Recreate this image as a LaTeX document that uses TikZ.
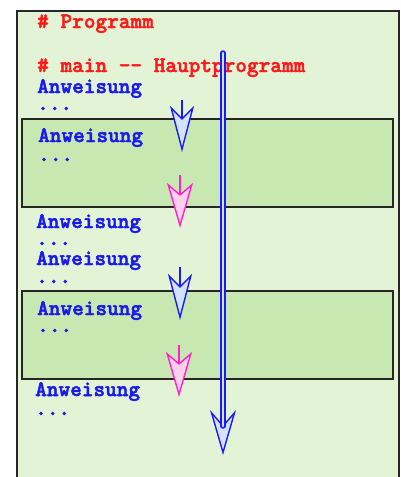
\documentclass[tikz,border=0pt]{standalone}
\usepackage{fontspec}
\newfontfamily\codefont{lmmonolt10-bold.otf}[AutoFakeBold=2.2]
\usetikzlibrary{arrows.meta,calc}
\definecolor{outerbg}{HTML}{E2F3D6}
\definecolor{innerbg}{HTML}{C7E8B1}
\definecolor{txtred}{HTML}{FF1A1A}
\definecolor{txtblue}{HTML}{1A1AEE}
\definecolor{arrblue}{HTML}{1A1AFF}
\definecolor{arrbluefill}{HTML}{D3E3FF}
\definecolor{arrpink}{HTML}{FF22CC}
\definecolor{arrpinkfill}{HTML}{FFD0EE}
\tikzset{
  codetext/.style={anchor=base west, inner sep=0pt, font=\codefont\bfseries\fontsize{22.2}{24}\selectfont},
  comment/.style={codetext, text=txtred},
  stmt/.style={codetext, text=txtblue},
  outerbox/.style={draw=black!85, line width=2.3pt, fill=outerbg},
  innerbox/.style={draw=black!85, line width=2.3pt, fill=innerbg, minimum width=371pt, minimum height=88pt, inner sep=0pt},
  bluearrow/.style={draw=arrblue, line width=2.6pt,
    -{Stealth[length=46pt,width=24pt,inset=12pt,fill=arrbluefill,line width=1.4pt]}},
  pinkarrow/.style={draw=arrpink, line width=2.8pt,
    -{Stealth[length=45pt,width=26pt,inset=11pt,fill=arrpinkfill,line width=1.4pt]}},
  longhead/.style={draw=arrblue, line width=1pt,
    -{Stealth[length=45pt,width=26pt,inset=15pt,fill=arrbluefill,line width=1.4pt]}},
  longshaft/.style={draw=arrblue, line width=1.5pt, double=arrbluefill, double distance=2.5pt, line cap=round},
}
\begin{document}
\begin{tikzpicture}[x=1pt,y=-1pt]
\useasboundingbox (0,0) rectangle (401,477);
% outer frame
\draw[outerbox] (17,11) rectangle (399,500);
% inner blocks
\node[innerbox] (blockA) at (207.5,163) {};
\node[innerbox] (blockB) at (207.5,335) {};
% code lines
\node[comment] (c1) at (37,28) {\# Programm};
\node[comment] (c2) at (37,72) {\# main -- Hauptprogramm};
\node[stmt] (s1) at (37,93) {Anweisung};
\node[stmt] (d1) at (37,110) {...};
\node[stmt] (s2) at (38,142) {Anweisung};
\node[stmt] (d2) at (38,161) {...};
\node[stmt] (s3) at (36,228) {Anweisung};
\node[stmt] (d3) at (36,245) {...};
\node[stmt] (s4) at (36,265) {Anweisung};
\node[stmt] (d4) at (36,283) {...};
\node[stmt] (s5) at (37,315) {Anweisung};
\node[stmt] (d5) at (37,332) {...};
\node[stmt] (s6) at (35,396) {Anweisung};
\node[stmt] (d6) at (35,415) {...};
% arrow end points
\coordinate (a1s) at (182,100);
\coordinate (a1e) at (182,152);
\coordinate (p1s) at (180,175);
\coordinate (p1e) at (180,228);
\coordinate (a2s) at (180,267);
\coordinate (a2e) at (180,320);
\coordinate (p2s) at (179,345);
\coordinate (p2e) at (179,397);
\coordinate (las) at (223,53);
\coordinate (lae) at (223,455);
% short arrows
\draw[bluearrow] (a1s) -- (a1e);
\draw[pinkarrow] (p1s) -- (p1e);
\draw[bluearrow] (a2s) -- (a2e);
\draw[pinkarrow] (p2s) -- (p2e);
% long arrow
\draw[longhead] ($(lae)+(0,-60)$) -- (lae);
\draw[longshaft] (las) -- ($(lae)+(0,-29)$);
\end{tikzpicture}
\end{document}
